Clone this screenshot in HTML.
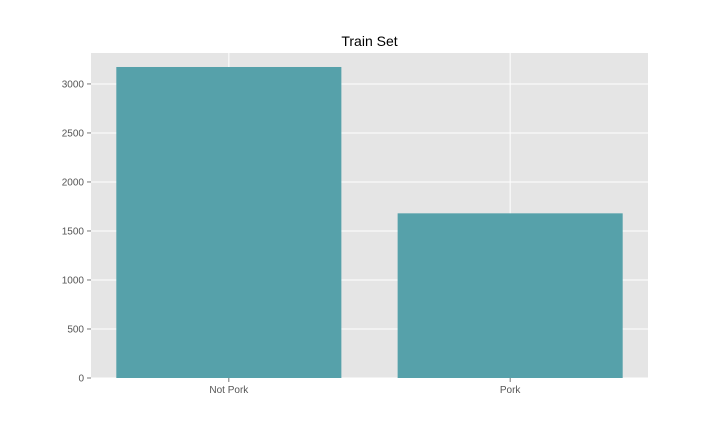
<!DOCTYPE html>
<html><head><meta charset="utf-8"><style>
html,body{margin:0;padding:0;background:#fff;width:720px;height:432px;overflow:hidden}
text{font-family:"Liberation Sans","DejaVu Sans",sans-serif}
</style></head><body>
<svg id="chart" width="720" height="432" xmlns="http://www.w3.org/2000/svg"></svg>
<script>
const categories = ["Not Pork", "Pork"];
const counts = [3173, 1680];
const yTicks = [0, 500, 1000, 1500, 2000, 2500, 3000];

const svg = document.getElementById('chart');
const NS = 'http://www.w3.org/2000/svg';
const L = 91, R = 648, T = 53, B = 378;
const yMax = Math.max(...counts) * 1.045;
const xMin = -0.49, xMax = categories.length - 1 + 0.49;
function y(v){ return B - (v / yMax) * (B - T); }
function x(i){ return L + (i - xMin) / (xMax - xMin) * (R - L); }
function mk(tag, attrs){ const e = document.createElementNS(NS, tag); for (const k in attrs) e.setAttribute(k, attrs[k]); svg.appendChild(e); return e; }

const bg = mk('rect', {x:L, y:T, width:R-L, height:B-T, fill:'#e5e5e5'});



yTicks.forEach(t => {
  const g = mk('line', {x1:L, x2:R, y1:y(t), y2:y(t), stroke:'#fff', 'stroke-width':1});
  
  
  const tk = mk('line', {x1:L-4, x2:L, y1:y(t), y2:y(t), stroke:'#555', 'stroke-width':0.8});
  
  
  const lb = mk('text', {x:L-7, y:y(t)+3.5, 'text-anchor':'end', 'font-size':10, fill:'#555'});
  lb.textContent = t;
  
  
});
categories.forEach((c, i) => {
  const g = mk('line', {x1:x(i), x2:x(i), y1:T, y2:B, stroke:'#fff', 'stroke-width':1});
  
  
});
categories.forEach((c, i) => {
  const w = (x(0.4) - x(-0.4));
  const b = mk('rect', {x:x(i) - w/2, y:y(counts[i]), width:w, height:B - y(counts[i]), fill:'#56a1aa'});
  
  
  const tk = mk('line', {x1:x(i), x2:x(i), y1:B, y2:B+4, stroke:'#555', 'stroke-width':0.8});
  
  
  const lb = mk('text', {x:x(i), y:B+15, 'text-anchor':'middle', 'font-size':10, fill:'#555'});
  lb.textContent = c;
  
  
});
const title = mk('text', {x:(L+R)/2, y:T-7, 'text-anchor':'middle', 'font-size':14, fill:'#000'});
title.textContent = 'Train Set';


</script>
</body></html>
